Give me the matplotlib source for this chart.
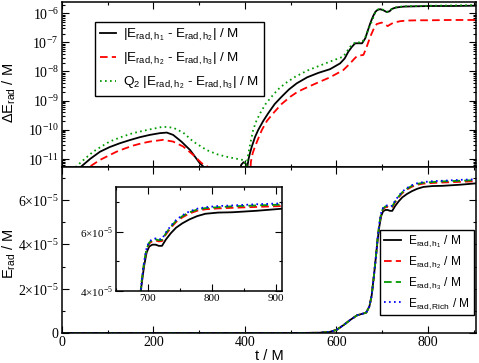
import numpy as np
import matplotlib
matplotlib.use('Agg')
import matplotlib.pyplot as plt
from matplotlib.ticker import MultipleLocator, LogLocator, NullFormatter, FuncFormatter
from matplotlib.lines import Line2D

SERIF = ['Liberation Serif', 'DejaVu Serif']
SANS = ['Liberation Sans', 'DejaVu Sans']
plt.rcParams['lines.scale_dashes'] = False
plt.rcParams['font.family'] = SERIF

# ---- top panel: differences (log scale) ----
t_d12 = [30, 42, 62, 83, 104, 126, 148, 170, 192, 214, 229, 243, 261, 280, 301, 309, 320,
         385, 392, 397, 401, 405, 408, 411, 415, 422, 429, 440, 451, 465, 480, 496, 513, 536,
         560, 586, 608, 618, 626, 634, 641, 650, 656, 663, 668, 674, 680, 685, 690, 696, 703,
         710, 716, 721, 730, 747, 775, 805, 850, 906]
d12 = [2.5e-12, 5.4e-12, 1.0e-11, 1.74e-11, 2.51e-11, 3.39e-11, 4.37e-11, 5.5e-11, 6.61e-11,
       7.59e-11, 7.94e-11, 6.61e-11, 3.89e-11, 2.0e-11, 7.1e-12, 5.4e-12, 2.5e-12,
       2.5e-12, 6.3e-12, 7.6e-12, 7.1e-12, 5.0e-12, 1.0e-11, 1.58e-11, 2.63e-11, 5.6e-11,
       9.8e-11, 2.0e-10, 3.7e-10, 7.6e-10, 1.35e-9, 2.4e-9, 3.9e-9, 6.3e-9,
       8.9e-9, 1.2e-8, 1.9e-8, 2.8e-8, 4.8e-8, 7.1e-8, 9.3e-8, 9.3e-8, 9.3e-8, 1.38e-7, 2.4e-7,
       4.6e-7, 7.9e-7, 1.12e-6, 1.32e-6, 1.38e-6, 1.26e-6, 1.10e-6, 1.17e-6, 1.41e-6, 1.58e-6,
       1.70e-6, 1.74e-6, 1.78e-6, 1.78e-6, 1.82e-6]

t_d23 = [50, 61, 83, 101, 119, 137, 155, 174, 192, 221, 243, 265, 287, 305, 320, 330,
         405, 411, 413, 417, 422, 430, 437, 448, 462, 480, 499, 515, 531, 560, 586, 615, 630,
         638, 645, 652, 659, 665, 674, 681, 688, 699, 706, 712, 718, 725, 740, 754, 780, 805,
         850, 906]
d23 = [2.5e-12, 5.4e-12, 9.1e-12, 1.26e-11, 1.74e-11, 2.24e-11, 2.82e-11, 3.39e-11, 3.89e-11,
       4.47e-11, 3.89e-11, 2.63e-11, 1.35e-11, 7.1e-12, 5.2e-12, 2.5e-12,
       2.5e-12, 2.5e-12, 7.9e-12, 1.58e-11, 2.63e-11, 5.4e-11, 9.8e-11, 2.0e-10, 3.7e-10,
       7.6e-10, 1.35e-9, 2.0e-9, 2.63e-9, 4.2e-9, 6.3e-9, 1.12e-8, 1.9e-8, 2.63e-8, 3.39e-8,
       3.55e-8, 3.72e-8, 6.3e-8, 1.58e-7, 2.82e-7, 4.27e-7, 4.79e-7, 4.17e-7, 3.63e-7, 4.17e-7,
       4.79e-7, 5.37e-7, 5.62e-7, 5.75e-7, 5.75e-7, 5.89e-7, 5.89e-7]

t_q23 = [20, 31, 50, 68, 86, 104, 130, 155, 192, 221, 243, 265, 287, 316, 340, 360, 389,
         399, 402, 404, 407, 412, 418, 425, 433, 445, 458, 472, 488, 510, 536, 560, 586, 615,
         630, 641, 656, 663, 670, 678, 685, 692, 698, 705, 710, 716, 722, 735, 750, 780, 805,
         850, 906]
q23 = [2.5e-12, 5.4e-12, 1.0e-11, 1.74e-11, 2.63e-11, 3.89e-11, 5.6e-11, 7.6e-11, 1.02e-10,
       1.26e-10, 1.17e-10, 7.9e-11, 3.89e-11, 2.0e-11, 1.41e-11, 1.17e-11, 9.5e-12,
       8.9e-12, 4.5e-12, 6.3e-12, 1.41e-11, 3.55e-11, 1.0e-10, 2.0e-10, 3.63e-10, 7.6e-10,
       1.35e-9, 2.4e-9, 3.9e-9, 6.6e-9, 1.07e-8, 1.51e-8, 2.19e-8, 3.24e-8, 7.1e-8, 1.0e-7,
       1.0e-7, 1.51e-7, 2.82e-7, 5.6e-7, 1.07e-6, 1.38e-6, 1.41e-6, 1.26e-6, 1.12e-6, 1.2e-6,
       1.45e-6, 1.66e-6, 1.74e-6, 1.78e-6, 1.82e-6, 1.86e-6, 1.91e-6]

# ---- bottom panel: radiated energy (units of 1e-5 M) ----
t_E = [0, 500, 560, 585, 600, 615, 630, 645, 655, 665, 672, 677, 682, 686, 690, 694, 698,
       702, 707, 712, 717, 722, 728, 736, 744, 754, 765, 777, 790, 810, 832, 870, 910]
E_h1 = [0, 0, 0.01, 0.05, 0.14, 0.35, 0.59, 0.8, 0.86, 0.92, 1.2, 1.7, 2.6, 3.4, 4.2, 4.85,
        5.3, 5.5, 5.56, 5.56, 5.52, 5.52, 5.73, 5.95, 6.13, 6.28, 6.41, 6.52, 6.6, 6.64,
        6.65, 6.7, 6.77]
E_h2 = [0, 0, 0.01, 0.05, 0.14, 0.35, 0.59, 0.8, 0.86, 0.92, 1.2, 1.7, 2.6, 3.4, 4.3, 4.95,
        5.4, 5.6, 5.68, 5.7, 5.67, 5.68, 5.9, 6.13, 6.32, 6.48, 6.61, 6.7, 6.75, 6.78,
        6.8, 6.83, 6.86]
E_h3 = [0, 0, 0.01, 0.05, 0.14, 0.35, 0.59, 0.8, 0.86, 0.92, 1.2, 1.7, 2.6, 3.4, 4.3, 4.97,
        5.43, 5.63, 5.72, 5.74, 5.71, 5.72, 5.94, 6.17, 6.36, 6.52, 6.65, 6.74, 6.79, 6.82,
        6.85, 6.88, 6.91]
E_rich = [0, 0, 0.01, 0.05, 0.14, 0.35, 0.59, 0.8, 0.86, 0.92, 1.2, 1.7, 2.6, 3.4, 4.3, 4.99,
          5.45, 5.66, 5.75, 5.77, 5.74, 5.75, 5.97, 6.2, 6.39, 6.55, 6.68, 6.77, 6.82, 6.86,
          6.88, 6.92, 6.95]
E_scale = 1e-5

GREEN = '#009a00'
LW = 1.3
DASH = (0, (5.5, 3.0))
DOT = (0, (1.2, 2.4))


def h(n):
    return r'E$_{\mathregular{rad,h}_{\mathregular{%s}}}$' % n


def style_axis(ax, size=10):
    ax.tick_params(which='both', direction='in', top=True, right=True, width=0.8,
                   labelsize=size, pad=2.5)
    ax.tick_params(which='major', length=5)
    ax.tick_params(which='minor', length=2.5)
    for s in ax.spines.values():
        s.set_linewidth(1.1)


def sci_fmt(v, pos):
    if abs(v) < 1e-12:
        return '0'
    m = v / 1e-5
    return '%d\u00d710$^{\\mathregular{-5}}$' % round(m)


def log_fmt(v, pos):
    return r'10$^{\mathregular{%d}}$' % round(np.log10(v))


fig = plt.figure(figsize=(4.79, 3.63), dpi=100)
ax1 = fig.add_axes([0.1294, 0.5399, 0.8643, 0.4554])
ax2 = fig.add_axes([0.1294, 0.0826, 0.8643, 0.4573])

# top
ax1.plot(t_d12, d12, color='black', lw=LW)
ax1.plot(t_d23, d23, color='red', lw=LW, linestyle=DASH)
ax1.plot(t_q23, q23, color=GREEN, lw=LW, linestyle=DOT)
ax1.set_yscale('log')
ax1.set_xlim(0, 905)
ax1.set_ylim(5.2e-12, 2.5e-6)
ax1.xaxis.set_major_locator(MultipleLocator(200))
ax1.xaxis.set_minor_locator(MultipleLocator(100))
ax1.set_xticklabels([])
ax1.yaxis.set_major_locator(LogLocator(base=10, numticks=20))
ax1.yaxis.set_minor_locator(LogLocator(base=10, subs=np.arange(2, 10), numticks=20))
ax1.yaxis.set_major_formatter(FuncFormatter(log_fmt))
ax1.yaxis.set_minor_formatter(NullFormatter())
ax1.set_ylabel(r'$\mathregular{\Delta}$E$_{\mathregular{rad}}$ / M', family=SANS, fontsize=10.5)
ax1.yaxis.set_label_coords(-0.106, 0.45)
style_axis(ax1)

top_handles = [Line2D([], [], color='black', lw=LW),
               Line2D([], [], color='red', lw=LW, linestyle=DASH),
               Line2D([], [], color=GREEN, lw=LW, linestyle=DOT)]
top_labels = ['|' + h(1) + ' - ' + h(2) + '| / M',
              '|' + h(2) + ' - ' + h(3) + '| / M',
              r'Q$_{\mathregular{2}}$ |' + h(2) + ' - ' + h(3) + '| / M']
leg1 = ax1.legend(top_handles, top_labels, loc='upper left', bbox_to_anchor=(0.08, 0.877),
                  borderaxespad=0, fancybox=False, edgecolor='black', framealpha=1,
                  prop={'family': SANS, 'size': 9.7}, handlelength=1.2, labelspacing=0.55,
                  handletextpad=0.5, borderpad=0.35)
leg1.get_frame().set_linewidth(1.0)

# bottom
ax2.plot(t_E, np.array(E_h1) * E_scale, color='black', lw=LW, label=h(1) + ' / M')
ax2.plot(t_E, np.array(E_h2) * E_scale, color='red', lw=LW, linestyle=DASH, label=h(2) + ' / M')
ax2.plot(t_E, np.array(E_h3) * E_scale, color=GREEN, lw=LW, linestyle=DASH, label=h(3) + ' / M')
ax2.plot(t_E, np.array(E_rich) * E_scale, color='blue', lw=LW, linestyle=DOT,
         label=r'E$_{\mathregular{rad,Rich}}$ / M')
ax2.set_xlim(0, 905)
ax2.set_ylim(0, 7.5e-5)
ax2.xaxis.set_major_locator(MultipleLocator(200))
ax2.xaxis.set_minor_locator(MultipleLocator(100))
ax2.yaxis.set_major_locator(MultipleLocator(2e-5))
ax2.yaxis.set_minor_locator(MultipleLocator(1e-5))
ax2.yaxis.set_major_formatter(FuncFormatter(sci_fmt))
ax2.set_xlabel('t / M', family=SANS, fontsize=10.5, labelpad=0)
ax2.set_ylabel(r'E$_{\mathregular{rad}}$ / M', family=SANS, fontsize=10.5)
ax2.yaxis.set_label_coords(-0.106, 0.48)
style_axis(ax2)
leg2 = ax2.legend(loc='lower right', bbox_to_anchor=(0.995, 0.108), borderaxespad=0,
                  fancybox=False, edgecolor='black', framealpha=1,
                  prop={'family': SANS, 'size': 8.6}, handlelength=1.45, labelspacing=0.35,
                  handletextpad=0.6, borderpad=0.3)
leg2.get_frame().set_linewidth(1.0)

# inset
ax3 = fig.add_axes([0.2422, 0.1983, 0.3466, 0.2865])
ax3.plot(t_E, np.array(E_h1) * E_scale, color='black', lw=LW)
ax3.plot(t_E, np.array(E_h2) * E_scale, color='red', lw=LW, linestyle=DASH)
ax3.plot(t_E, np.array(E_h3) * E_scale, color=GREEN, lw=LW, linestyle=DASH)
ax3.plot(t_E, np.array(E_rich) * E_scale, color='blue', lw=LW, linestyle=DOT)
ax3.set_xlim(650, 910)
ax3.set_ylim(4e-5, 7.5e-5)
ax3.xaxis.set_major_locator(MultipleLocator(100))
ax3.xaxis.set_minor_locator(MultipleLocator(50))
ax3.yaxis.set_major_locator(MultipleLocator(2e-5))
ax3.yaxis.set_minor_locator(MultipleLocator(1e-5))
ax3.yaxis.set_major_formatter(FuncFormatter(sci_fmt))
style_axis(ax3, size=8)

fig.savefig('out.png', dpi=100)
